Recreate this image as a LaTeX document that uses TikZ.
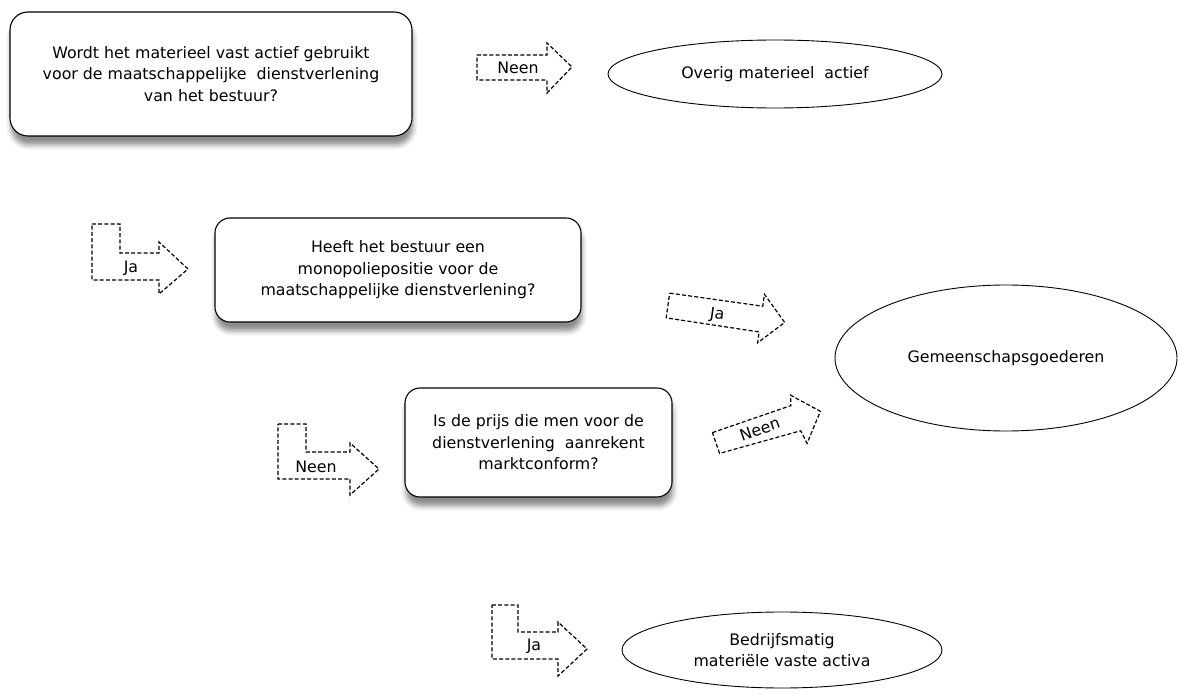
\documentclass[tikz,border=0pt]{standalone}
\usepackage{fontspec}
\setmainfont{DejaVu Sans}
\usetikzlibrary{shapes.geometric,shadows.blur}
\tikzset{
  qbox/.style={draw=black, line width=1.1pt, rounded corners=18pt, fill=white, align=center,
    inner sep=0pt, font=\fontsize{15.8}{21.5}\selectfont,
    blur shadow={shadow xshift=1pt, shadow yshift=-9pt, shadow opacity=45, shadow blur radius=5pt}},
  ans/.style={draw=black, line width=0.9pt, ellipse, fill=white, align=center, inner sep=0pt,
    font=\fontsize{15.8}{21.5}\selectfont},
  darrow/.style={draw=black, line width=1.2pt, dash pattern=on 4pt off 2.2pt},
  alabel/.style={inner sep=0pt, font=\fontsize{15.8}{18}\selectfont},
}
\begin{document}
\begin{tikzpicture}[x=1pt,y=-1pt]
\useasboundingbox (0,0) rectangle (1179,695);

% question boxes
\node[qbox, minimum width=402pt, minimum height=124pt] (q1) at (211,74)
  {Wordt het materieel vast actief gebruikt\\voor de maatschappelijke\ \ dienstverlening\\van het bestuur?};
\node[qbox, minimum width=366pt, minimum height=104pt, rounded corners=15pt] (q2) at (398,270)
  {Heeft het bestuur een\\monopoliepositie voor de\\maatschappelijke dienstverlening?};
\node[qbox, minimum width=267pt, minimum height=109pt, rounded corners=15pt] (q3) at (538.5,442.5)
  {Is de prijs die men voor de\\dienstverlening\ \ aanrekent\\marktconform?};

% answers
\node[ans, minimum width=334pt, minimum height=68pt] (a1) at (775,74) {Overig materieel\ \ actief};
\node[ans, minimum width=342pt, minimum height=146pt] (a2) at (1006,358) {Gemeenschapsgoederen};
\node[ans, minimum width=320pt, minimum height=76pt] (a3) at (782,650) {Bedrijfsmatig\\materiële vaste activa};

% straight arrow "Neen" (q1 -> a1)
\draw[darrow] (477,55) -- (547,55) -- (547,43) -- (572,67) -- (547,93) -- (547,80) -- (477,80) -- cycle;
\node[alabel] (l1) at (518,68) {Neen};

% L-arrow "Ja" (q1 -> q2)
\draw[darrow] (92,224) -- (120,224) -- (120,253) -- (159,253) -- (159,242) -- (188,269) -- (159,294) -- (159,280) -- (92,280) -- cycle;
\node[alabel] (l2) at (131,268) {Ja};

% tilted arrow "Ja" (q2 -> a2)
\begin{scope}[shift={(668,305)}, rotate=-8]
\draw[darrow] (0,-12) -- (94,-12) -- (94,-24) -- (118,1) -- (94,25) -- (94,14) -- (0,13) -- cycle;
\node[alabel, rotate=-8] (l3) at (50,3) {Ja};
\end{scope}

% L-arrow "Neen" (q2 -> q3)
\draw[darrow] (278,424) -- (306,424) -- (306,452) -- (350,452) -- (350,443) -- (379,469) -- (350,495) -- (350,479) -- (278,479) -- cycle;
\node[alabel] (l4) at (316,467) {Neen};

% tilted arrow "Neen" (q3 -> a2)
\begin{scope}[shift={(716,443)}, rotate=19]
\draw[darrow] (0,-11) -- (83,-11) -- (86,-21) -- (109,4) -- (86,30) -- (84,16) -- (0,11) -- cycle;
\node[alabel, rotate=19] (l5) at (46,1) {Neen};
\end{scope}

% L-arrow "Ja" (q3 -> a3)
\draw[darrow] (492,605) -- (518,605) -- (518,632) -- (558,632) -- (558,622) -- (587,649) -- (558,676) -- (558,659) -- (492,659) -- cycle;
\node[alabel] (l6) at (534,646) {Ja};
\end{tikzpicture}
\end{document}
